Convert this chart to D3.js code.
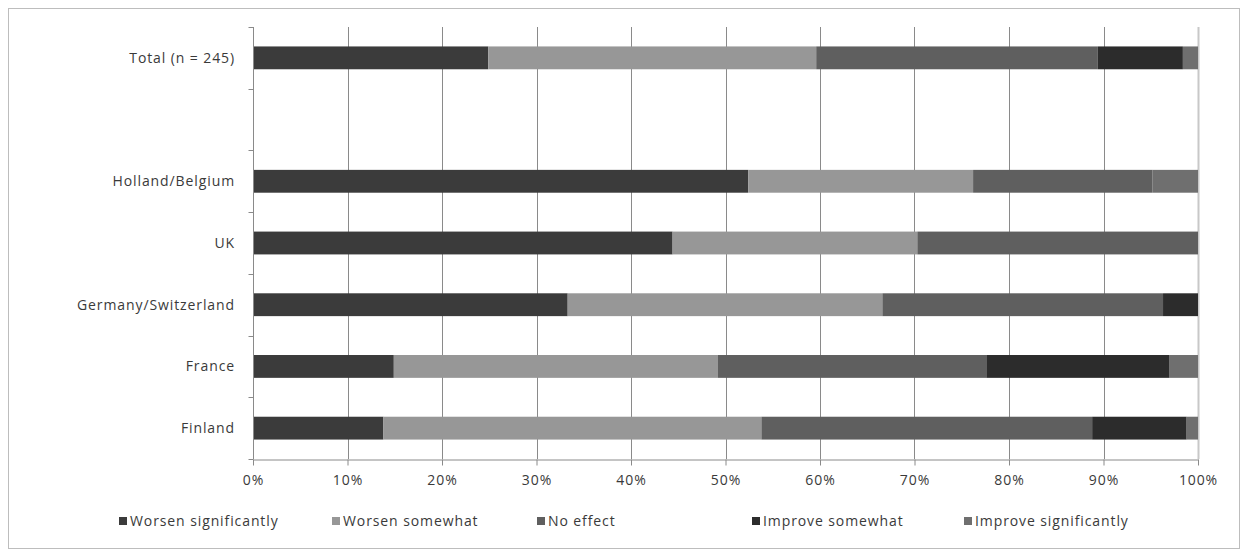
<!DOCTYPE html>
<html><head><meta charset="utf-8">
<script src="https://cdn.jsdelivr.net/npm/d3@7"></script>
<style>body{margin:0;background:#fff}svg{display:block}</style>
</head><body>
<svg id="c" width="1246" height="557"></svg>
<script>
const categories = ["Total (n = 245)", "", "Holland/Belgium", "UK", "Germany/Switzerland", "France", "Finland"];
const seriesNames = ["Worsen significantly", "Worsen somewhat", "No effect", "Improve somewhat", "Improve significantly"];
const worsenSig   = [24.9, null, 52.4, 44.4, 33.3, 14.9, 13.8];
const worsenSome  = [34.7, null, 23.8, 25.9, 33.3, 34.3, 40.0];
const noEffect    = [29.8, null, 19.0, 29.7, 29.7, 28.4, 35.0];
const improveSome = [9.0,  null, 0,    0,    3.7,  19.4, 10.0];
const improveSig  = [1.6,  null, 4.8,  0,    0,    3.0,  1.2];
const tickValues = [0,10,20,30,40,50,60,70,80,90,100];
const colors = ["#3b3b3b", "#979797", "#5f5f5f", "#2c2c2c", "#6f6f6f"];

const series = [worsenSig, worsenSome, noEffect, improveSome, improveSig];
const svg = d3.select("#c");
const font = "'Open Sans', sans-serif";
const fs = 14, ls = "0.9px", tc = "#3a3a3a";

svg.append("rect").attr("x",8.5).attr("y",8.5).attr("width",1231).attr("height",540)
  .attr("fill","#fff").attr("stroke","#bdbdbd");

const x = d3.scaleLinear().domain([0,100]).range([253,1198]);
const y = d3.scaleBand().domain(d3.range(categories.length)).range([27,459]).paddingInner(0.63).paddingOuter(0.315);

// gridlines
svg.append("g").selectAll("line").data(tickValues.slice(1)).join("line")
  .attr("x1",d=>Math.round(x(d))+0.5).attr("x2",d=>Math.round(x(d))+0.5)
  .attr("y1",27).attr("y2",459)
  .attr("stroke",d=>d===100?"#c8c8c8":"#8a8a8a").attr("stroke-width",d=>d===100?2:1);

// bars
const rows = categories.map((c,i)=>{
  let acc=0; const segs=[];
  series.forEach((s,k)=>{ const v=s[i]; if(v){ segs.push({i,k,x0:acc,x1:acc+v}); acc+=v; } });
  return segs;
}).flat();
svg.append("g").selectAll("rect").data(rows).join("rect")
  .attr("x",d=>x(d.x0)).attr("width",d=>x(Math.min(100,d.x1))-x(d.x0))
  .attr("y",d=>y(d.i)).attr("height",y.bandwidth())
  .attr("fill",d=>colors[d.k]);

// x axis
const xAxis = d3.axisBottom(x).tickValues(tickValues).tickFormat(d=>d+"%").tickSize(6).tickSizeOuter(0);
const gx = svg.append("g").attr("transform","translate(0,459.5)").call(xAxis);
gx.select(".domain").attr("stroke","#8a8a8a");
gx.selectAll(".tick line").attr("stroke","#8a8a8a");
gx.selectAll("text").attr("font-family",font).attr("font-size",fs).attr("letter-spacing",ls)
  .attr("fill",tc).attr("dy","1.2em");

// y axis
const yl = d3.scaleLinear().domain([0,categories.length]).range([27,459]);
const gy = svg.append("g").attr("transform","translate(253.5,0)");
gy.append("line").attr("y1",27).attr("y2",459).attr("stroke","#8a8a8a");
gy.selectAll("line.t").data(d3.range(categories.length+1)).join("line").attr("class","t")
  .attr("x1",-5).attr("x2",0).attr("y1",d=>Math.round(yl(d))+0.5).attr("y2",d=>Math.round(yl(d))+0.5).attr("stroke","#8a8a8a");
svg.append("g").selectAll("text").data(categories).join("text")
  .attr("x",235).attr("y",(d,i)=>y(i)+y.bandwidth()/2).attr("dy","0.35em")
  .attr("text-anchor","end").attr("font-family",font).attr("font-size",fs).attr("letter-spacing",ls).attr("fill",tc)
  .text(d=>d);

// legend
const legX = [119, 332, 537, 752, 964];
const lg = svg.append("g").selectAll("g").data(seriesNames).join("g")
  .attr("transform",(d,i)=>`translate(${legX[i]},521)`);
lg.append("rect").attr("x",0).attr("y",-4).attr("width",8).attr("height",8).attr("fill",(d,i)=>colors[i]);
lg.append("text").attr("x",11).attr("y",0).attr("dy","0.35em").attr("font-family",font).attr("font-size",fs)
  .attr("letter-spacing",ls).attr("fill",tc).text(d=>d);
</script>
</body></html>
